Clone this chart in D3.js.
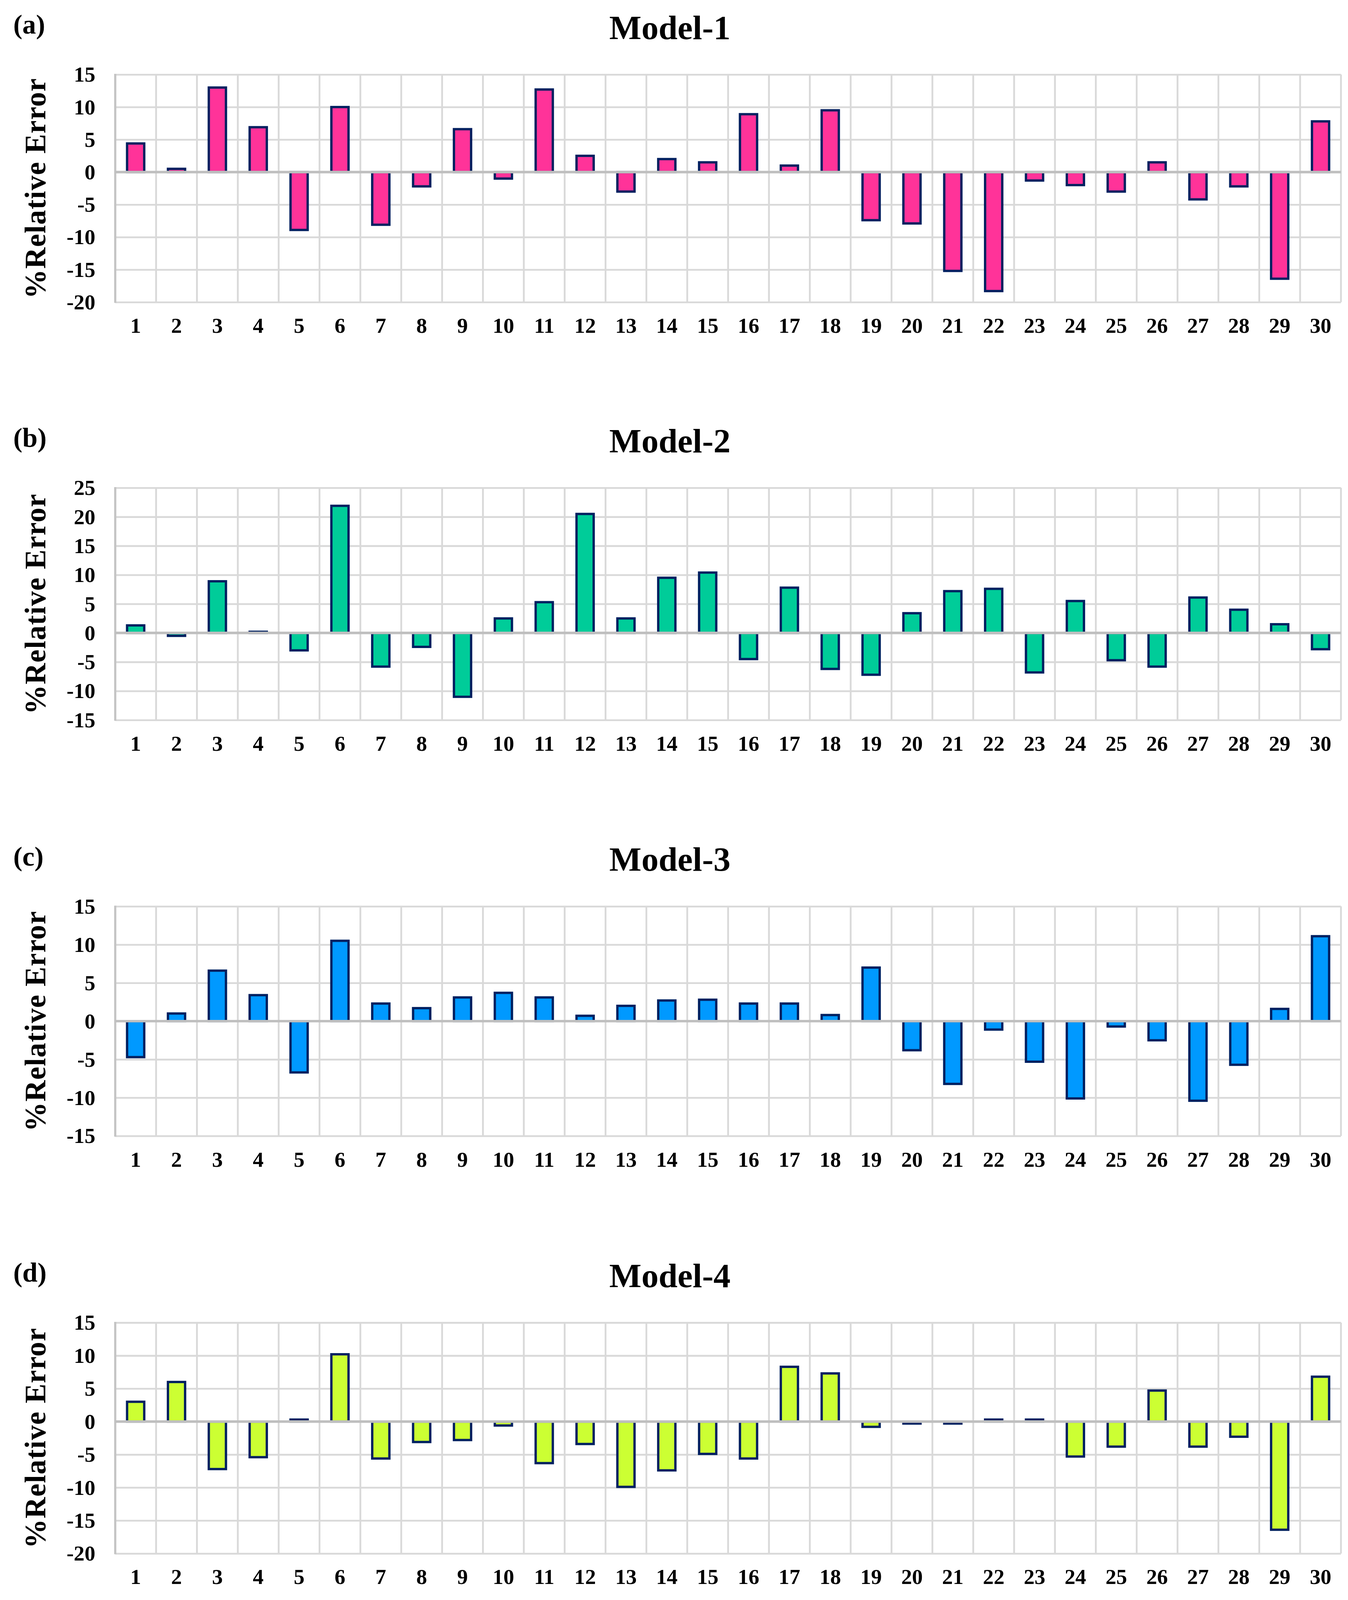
<!DOCTYPE html>
<html>
<head>
<meta charset="utf-8">
<script src="https://cdn.jsdelivr.net/npm/d3@7"></script>
<style>
    html, body { margin: 0; padding: 0; background: #ffffff; overflow: hidden; }
    svg { display: block; }
    text { font-family: 'Liberation Serif', 'Times New Roman', serif; font-weight: bold; fill: #000000; }
</style>
</head>
<body>
<script>

// Data

const samples = d3.range(1, 31)

const model1 = [4.4, 0.5, 13.0, 6.9, -8.9, 10.0, -8.1, -2.2, 6.6, -1.0,
    12.7, 2.5, -3.0, 2.0, 1.5, 8.9, 1.0, 9.5, -7.4, -7.9,
    -15.2, -18.3, -1.3, -2.0, -3.0, 1.5, -4.2, -2.2, -16.4, 7.8]

const model2 = [1.3, -0.5, 8.9, 0.2, -3.0, 21.9, -5.8, -2.4, -11.0, 2.5,
    5.3, 20.5, 2.5, 9.5, 10.4, -4.5, 7.8, -6.2, -7.2, 3.4,
    7.2, 7.6, -6.8, 5.5, -4.7, -5.8, 6.1, 4.0, 1.5, -2.8]

const model3 = [-4.7, 1.0, 6.6, 3.4, -6.7, 10.5, 2.3, 1.7, 3.1, 3.7,
    3.1, 0.7, 2.0, 2.7, 2.8, 2.3, 2.3, 0.8, 7.0, -3.8,
    -8.2, -1.1, -5.3, -10.1, -0.7, -2.5, -10.4, -5.7, 1.6, 11.1]

const model4 = [3.0, 6.0, -7.2, -5.4, 0.3, 10.2, -5.6, -3.1, -2.8, -0.6,
    -6.3, -3.4, -9.9, -7.4, -4.9, -5.6, 8.3, 7.3, -0.8, -0.3,
    -0.3, 0.3, 0.3, -5.3, -3.8, 4.7, -3.8, -2.3, -16.4, 6.8]

const ticks1 = [-20, -15, -10, -5, 0, 5, 10, 15]
const ticks2 = [-15, -10, -5, 0, 5, 10, 15, 20, 25]
const ticks3 = [-15, -10, -5, 0, 5, 10, 15]
const ticks4 = [-20, -15, -10, -5, 0, 5, 10, 15]

const panelLabels = ['(a)', '(b)', '(c)', '(d)']
const panelTitles = ['Model-1', 'Model-2', 'Model-3', 'Model-4']

// Layout, in pixels of the 3451 x 4851 original

const w = 3451
const h = 4851
const plotLeft = 295
const plotRight = 3433
const plotTops = [226, 1479, 2748, 4010]
const plotBottoms = [916, 2183, 3444, 4710]
const colors = ['#ff3399', '#00cc99', '#0099ff', '#ccff33']

const panels = [
    { label: panelLabels[0], title: panelTitles[0], values: model1, ticks: ticks1 },
    { label: panelLabels[1], title: panelTitles[1], values: model2, ticks: ticks2 },
    { label: panelLabels[2], title: panelTitles[2], values: model3, ticks: ticks3 },
    { label: panelLabels[3], title: panelTitles[3], values: model4, ticks: ticks4 }
]

// stretch the layout to whatever the window really is, keep text upright
const vw = window.innerWidth || w
const vh = window.innerHeight || h
const sx = vw / w
const sy = vh / h
const k = Math.sqrt(sx * sy)
const px = v => v * sx
const py = v => v * sy

const svg = d3.select('body')
    .append('svg')
        .attr('width', vw)
        .attr('height', vh)

const xScale = d3.scaleBand()
    .domain(samples)
    .range([px(plotLeft), px(plotRight)])

const barWidth = xScale.bandwidth() * 0.42

panels.forEach((panel, i) => {

    const top = py(plotTops[i])
    const bottom = py(plotBottoms[i])

    const yScale = d3.scaleLinear()
        .domain(d3.extent(panel.ticks))
        .range([bottom, top])

    const g = svg.append('g')
        .attr('class', 'panel')

    // Grid

    g.append('g')
        .attr('class', 'grid-y')
        .attr('transform', `translate(${px(plotLeft)}, 0)`)
        .call(d3.axisLeft(yScale)
            .tickValues(panel.ticks)
            .tickSize(-(px(plotRight) - px(plotLeft)))
            .tickFormat(''))
        .call(a => a.select('.domain').remove())
        .call(a => a.selectAll('line')
            .attr('stroke', '#d9d9d9')
            .attr('stroke-width', 5 * k))

    g.append('g')
        .attr('class', 'grid-x')
        .selectAll('line')
        .data([...samples.map(d => xScale(d)), px(plotRight)])
        .enter()
        .append('line')
            .attr('x1', d => d)
            .attr('x2', d => d)
            .attr('y1', top)
            .attr('y2', bottom)
            .attr('stroke', '#d9d9d9')
            .attr('stroke-width', 5 * k)

    // left axis line
    g.append('line')
        .attr('x1', px(plotLeft))
        .attr('x2', px(plotLeft))
        .attr('y1', top - 2 * k)
        .attr('y2', bottom + 2 * k)
        .attr('stroke', '#c4c4c4')
        .attr('stroke-width', 6 * k)

    // Bars

    g.selectAll('.bar')
        .data(panel.values)
        .enter()
        .append('rect')
            .attr('class', 'bar')
            .attr('x', (d, j) => xScale(samples[j]) + (xScale.bandwidth() - barWidth) / 2)
            .attr('y', d => yScale(Math.max(0, d)))
            .attr('width', barWidth)
            .attr('height', d => Math.abs(yScale(d) - yScale(0)))
            .attr('fill', colors[i])
            .attr('stroke', '#002060')
            .attr('stroke-width', 6.5 * k)

    // zero line
    g.append('line')
        .attr('x1', px(plotLeft))
        .attr('x2', px(plotRight))
        .attr('y1', yScale(0))
        .attr('y2', yScale(0))
        .attr('stroke', '#bfbfbf')
        .attr('stroke-width', 7 * k)

    // Tick labels

    g.selectAll('.y-label')
        .data(panel.ticks)
        .enter()
        .append('text')
            .attr('class', 'y-label')
            .attr('x', px(244))
            .attr('y', d => yScale(d))
            .attr('text-anchor', 'end')
            .attr('dominant-baseline', 'central')
            .style('font-size', `${60 * k}px`)
            .text(d => d)

    g.selectAll('.x-label')
        .data(samples)
        .enter()
        .append('text')
            .attr('class', 'x-label')
            .attr('x', d => xScale(d) + xScale.bandwidth() / 2)
            .attr('y', bottom + py(93))
            .attr('text-anchor', 'middle')
            .style('font-size', `${60 * k}px`)
            .text(d => d)

    // Titles

    g.append('text')
        .attr('x', px(34))
        .attr('y', top - py(124))
        .style('font-size', `${76 * k}px`)
        .text(panel.label)

    g.append('text')
        .attr('x', px(1715))
        .attr('y', top - py(108))
        .attr('text-anchor', 'middle')
        .style('font-size', `${95 * k}px`)
        .text(panel.title)

    const midY = (top + bottom) / 2
    g.append('text')
        .attr('x', px(91))
        .attr('y', midY)
        .attr('text-anchor', 'middle')
        .attr('dominant-baseline', 'central')
        .attr('transform', `rotate(270, ${px(91)}, ${midY})`)
        .style('font-size', `${82 * k}px`)
        .style('letter-spacing', `${1.5 * k}px`)
        .text('%Relative Error')
})

</script>
</body>
</html>
